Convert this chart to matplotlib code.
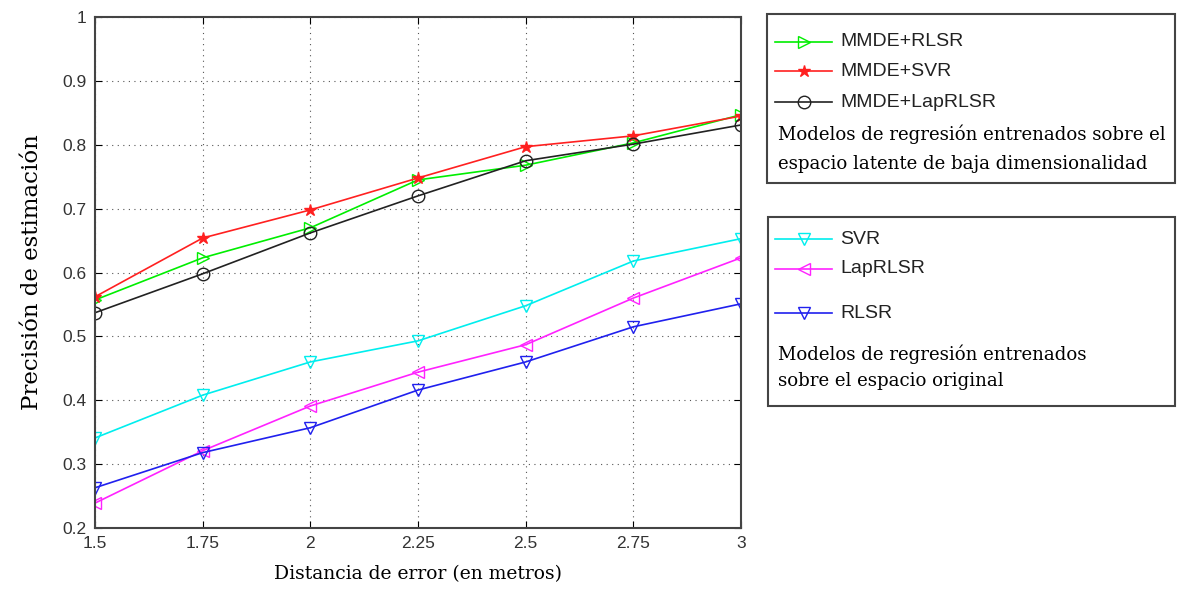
import matplotlib
matplotlib.use("Agg")
import matplotlib.pyplot as plt
from matplotlib.patches import Rectangle
from matplotlib.lines import Line2D

distancia = [1.5, 1.75, 2, 2.25, 2.5, 2.75, 3]
xtick_labels = ['1.5', '1.75', '2', '2.25', '2.5', '2.75', '3']

mmde_rlsr = [0.557, 0.623, 0.670, 0.745, 0.768, 0.803, 0.847]
mmde_svr = [0.562, 0.654, 0.698, 0.748, 0.797, 0.814, 0.845]
mmde_laprlsr = [0.537, 0.598, 0.662, 0.720, 0.775, 0.801, 0.831]
svr = [0.341, 0.408, 0.460, 0.493, 0.548, 0.618, 0.653]
laprlsr = [0.239, 0.321, 0.391, 0.444, 0.487, 0.560, 0.623]
rlsr = [0.263, 0.318, 0.357, 0.416, 0.460, 0.515, 0.551]

serif = 'DejaVu Serif'
sans = 'Liberation Sans'

fig = plt.figure(figsize=(11.83, 5.95), dpi=100)
ax = fig.add_axes([0.0803, 0.1126, 0.5461, 0.8588])

ms = 9
l1, = ax.plot(distancia, mmde_rlsr, '->', color='#00ee00', mfc='none', ms=ms, lw=1.2)
l2, = ax.plot(distancia, mmde_svr, '-*', color='#ff2020', ms=ms, lw=1.2)
l3, = ax.plot(distancia, mmde_laprlsr, '-o', color='#222222', mfc='none', ms=ms, lw=1.2)
l4, = ax.plot(distancia, svr, '-v', color='#00eeee', mfc='none', ms=ms, lw=1.2)
l5, = ax.plot(distancia, laprlsr, '-<', color='#ff22ff', mfc='none', ms=ms, lw=1.2)
l6, = ax.plot(distancia, rlsr, '-v', color='#2020ee', mfc='none', ms=ms, lw=1.2)

ax.set_xlim(1.5, 3)
ax.set_ylim(0.2, 1)
ax.set_xticks(distancia)
ax.set_xticklabels(xtick_labels, family=sans)
ax.set_yticks([0.2, 0.3, 0.4, 0.5, 0.6, 0.7, 0.8, 0.9, 1])
ax.set_yticklabels(['0.2', '0.3', '0.4', '0.5', '0.6', '0.7', '0.8', '0.9', '1'], family=sans)
ax.grid(True, linestyle=(0, (1, 4)), color='#555555', lw=0.8)
ax.tick_params(direction='in', top=True, right=True, labelsize=12.5, length=5,
               labelcolor='#333333', pad=6)
for s in ax.spines.values():
    s.set_linewidth(1.5)
    s.set_color('#444444')

ax.set_xlabel('Distancia de error (en metros)', fontsize=13.5, family=serif, labelpad=10)
ax.set_ylabel('Precisión de estimación', fontsize=16.5, family=serif, labelpad=14)

# legend boxes
W, H = 1183.0, 595.0


def box(x0, y0, x1, y1):
    fig.patches.append(Rectangle((x0 / W, 1 - y1 / H), (x1 - x0) / W, (y1 - y0) / H,
                                 transform=fig.transFigure, fill=False,
                                 edgecolor='#444444', lw=1.5))


box(767, 14, 1175, 183)
box(768, 217, 1175, 406)


def entry(line, label, y):
    xs = [775 / W, 832 / W]
    yy = 1 - y / H
    fig.lines.append(Line2D(xs, [yy, yy], transform=fig.transFigure,
                            color=line.get_color(), lw=1.2))
    fig.lines.append(Line2D([803.5 / W], [yy], transform=fig.transFigure,
                            marker=line.get_marker(), color=line.get_color(),
                            mfc=line.get_mfc(), ms=ms))
    fig.text(840 / W, yy, label, fontsize=14, family=sans, va='center', color='#222222')


entry(l1, 'MMDE+RLSR', 42)
entry(l2, 'MMDE+SVR', 71)
entry(l3, 'MMDE+LapRLSR', 102)
fig.text(778 / W, 1 - 134 / H, 'Modelos de regresión entrenados sobre el',
         fontsize=13.1, family=serif, va='center')
fig.text(778 / W, 1 - 164 / H, 'espacio latente de baja dimensionalidad',
         fontsize=13.1, family=serif, va='center')

entry(l4, 'SVR', 239)
entry(l5, 'LapRLSR', 269)
entry(l6, 'RLSR', 313)
fig.text(778 / W, 1 - 354 / H, 'Modelos de regresión entrenados',
         fontsize=13.1, family=serif, va='center')
fig.text(778 / W, 1 - 381 / H, 'sobre el espacio original',
         fontsize=13.1, family=serif, va='center')

fig.savefig('out.png', dpi=100)
